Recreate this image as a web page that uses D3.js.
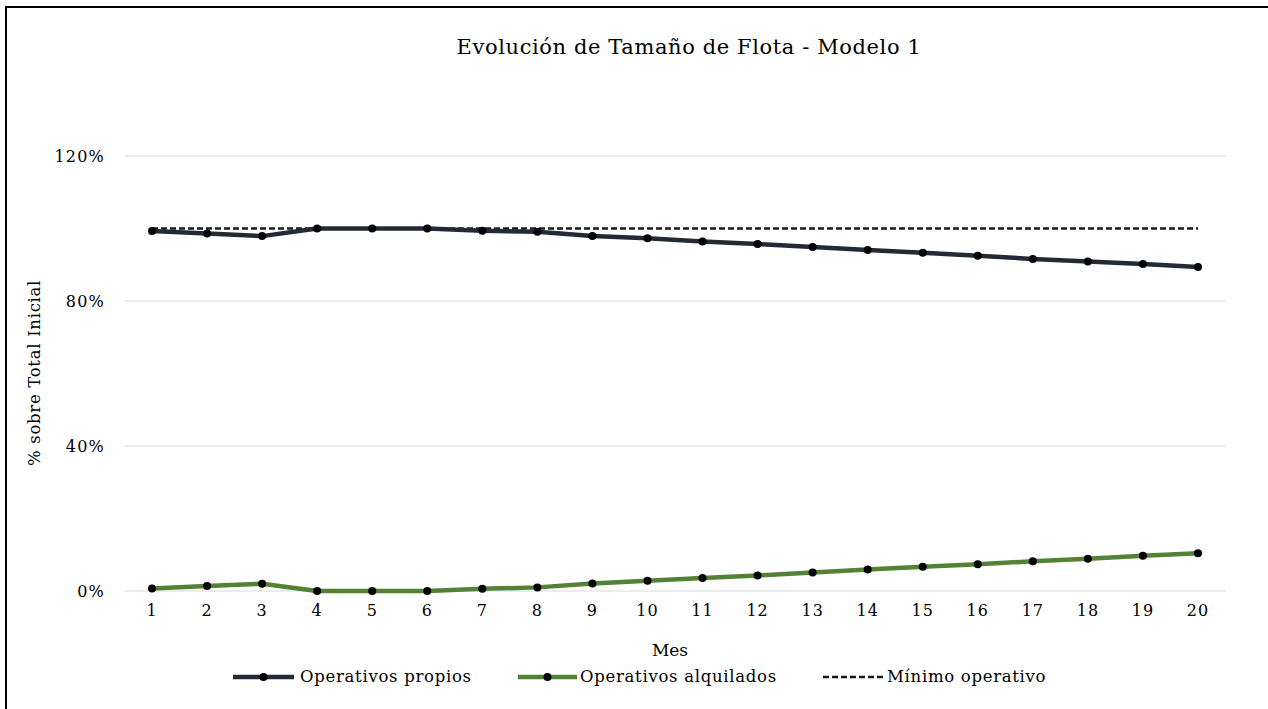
<!DOCTYPE html>
<html>
<head>
<meta charset="utf-8">
<script src="https://cdn.jsdelivr.net/npm/d3@7/dist/d3.min.js"></script>
<style>
  html, body { margin: 0; padding: 0; background: #fff; }
  svg { display: block; }
  text { font-family: "DejaVu Serif", "Liberation Serif", serif; fill: #000; }
</style>
</head>
<body>
<svg id="chart" width="1268" height="709"></svg>
<script>
const months = [1,2,3,4,5,6,7,8,9,10,11,12,13,14,15,16,17,18,19,20];
const propios = [99.3,98.6,97.9,100,100,100,99.4,99.1,97.9,97.3,96.4,95.7,94.9,94.1,93.3,92.5,91.6,90.9,90.2,89.4];
const alquilados = [0.7,1.4,2.0,0,0,0,0.6,1.0,2.1,2.8,3.6,4.3,5.1,5.9,6.7,7.4,8.2,8.9,9.7,10.4];
const minimo = [100,100,100,100,100,100,100,100,100,100,100,100,100,100,100,100,100,100,100,100];
const yTicks = [0,40,80,120];
const title = "Evolución de Tamaño de Flota - Modelo 1";
const yTitle = "% sobre Total Inicial";
const xTitle = "Mes";
const seriesNames = ["Operativos propios","Operativos alquilados","Mínimo operativo"];

const svg = d3.select("#chart");

// frame
svg.append("rect").attr("x",6).attr("y",7).attr("width",1300).attr("height",760)
  .attr("fill","none").attr("stroke","#000").attr("stroke-width",2);

const x = d3.scaleBand().domain(months).range([124.5,1225.5]);
const xc = d => x(d) + x.bandwidth()/2;
const y = d3.scaleLinear().domain([0,120]).range([591,156]);

// gridlines
svg.append("g").selectAll("line").data(yTicks).join("line")
  .attr("x1",124.5).attr("x2",1225.5)
  .attr("y1",d=>y(d)).attr("y2",d=>y(d))
  .attr("stroke","#d9d9d9").attr("stroke-width",1.2);

// y axis labels
const yAxis = d3.axisLeft(y).tickValues(yTicks).tickFormat(d=>d+"%").tickSize(0).tickPadding(0);
const gy = svg.append("g").attr("transform","translate(105,0)").call(yAxis);
gy.select(".domain").remove();
gy.selectAll("text").attr("font-size",16).attr("letter-spacing",1.2)
  .attr("font-family","DejaVu Serif").attr("fill","#000");

// x axis labels
const xAxis = d3.axisBottom(x).tickSize(0).tickPadding(0);
const gx = svg.append("g").attr("transform","translate(0,605)").call(xAxis);
gx.select(".domain").remove();
gx.selectAll("text").attr("font-size",16).attr("letter-spacing",1)
  .attr("font-family","DejaVu Serif").attr("fill","#000");

// title
svg.append("text").attr("x",689).attr("y",54).attr("text-anchor","middle")
  .attr("font-size",21).attr("letter-spacing",0.6).text(title);
// axis titles
svg.append("text").attr("x",670).attr("y",656).attr("text-anchor","middle")
  .attr("font-size",17).text(xTitle);
svg.append("text").attr("transform","translate(40,373) rotate(-90)").attr("text-anchor","middle")
  .attr("font-size",16.5).attr("letter-spacing",0.7).text(yTitle);

const line = d3.line().x((d,i)=>xc(months[i])).y(d=>y(d));

// minimo dashed
svg.append("path").datum(minimo).attr("d",line).attr("fill","none")
  .attr("stroke","#1a1a1a").attr("stroke-width",2.5).attr("stroke-dasharray","6,3");

const colors = ["#222a35","#548235"];
[propios, alquilados].forEach((s,k)=>{
  svg.append("path").datum(s).attr("d",line).attr("fill","none")
    .attr("stroke",colors[k]).attr("stroke-width",4.5).attr("stroke-linejoin","round");
  svg.append("g").selectAll("circle").data(s).join("circle")
    .attr("cx",(d,i)=>xc(months[i])).attr("cy",d=>y(d)).attr("r",4).attr("fill","#000");
});

// legend
const lg = svg.append("g");
const legendItems = [
  {name: seriesNames[0], x1:233, x2:294, tx:300, color:colors[0], dot:true, dash:null},
  {name: seriesNames[1], x1:518, x2:577, tx:580, color:colors[1], dot:true, dash:null},
  {name: seriesNames[2], x1:823, x2:885, tx:887, color:"#1a1a1a", dot:false, dash:"6,3"}
];
const ly = 677;
legendItems.forEach(it=>{
  lg.append("line").attr("x1",it.x1).attr("x2",it.x2).attr("y1",ly).attr("y2",ly)
    .attr("stroke",it.color).attr("stroke-width",it.dash?2.5:4.5)
    .attr("stroke-dasharray",it.dash);
  if(it.dot) lg.append("circle").attr("cx",(it.x1+it.x2)/2).attr("cy",ly).attr("r",4).attr("fill","#000");
  lg.append("text").attr("x",it.tx).attr("y",ly+5).attr("font-size",16.5)
    .attr("letter-spacing",0.7).text(it.name);
});
</script>
</body>
</html>
